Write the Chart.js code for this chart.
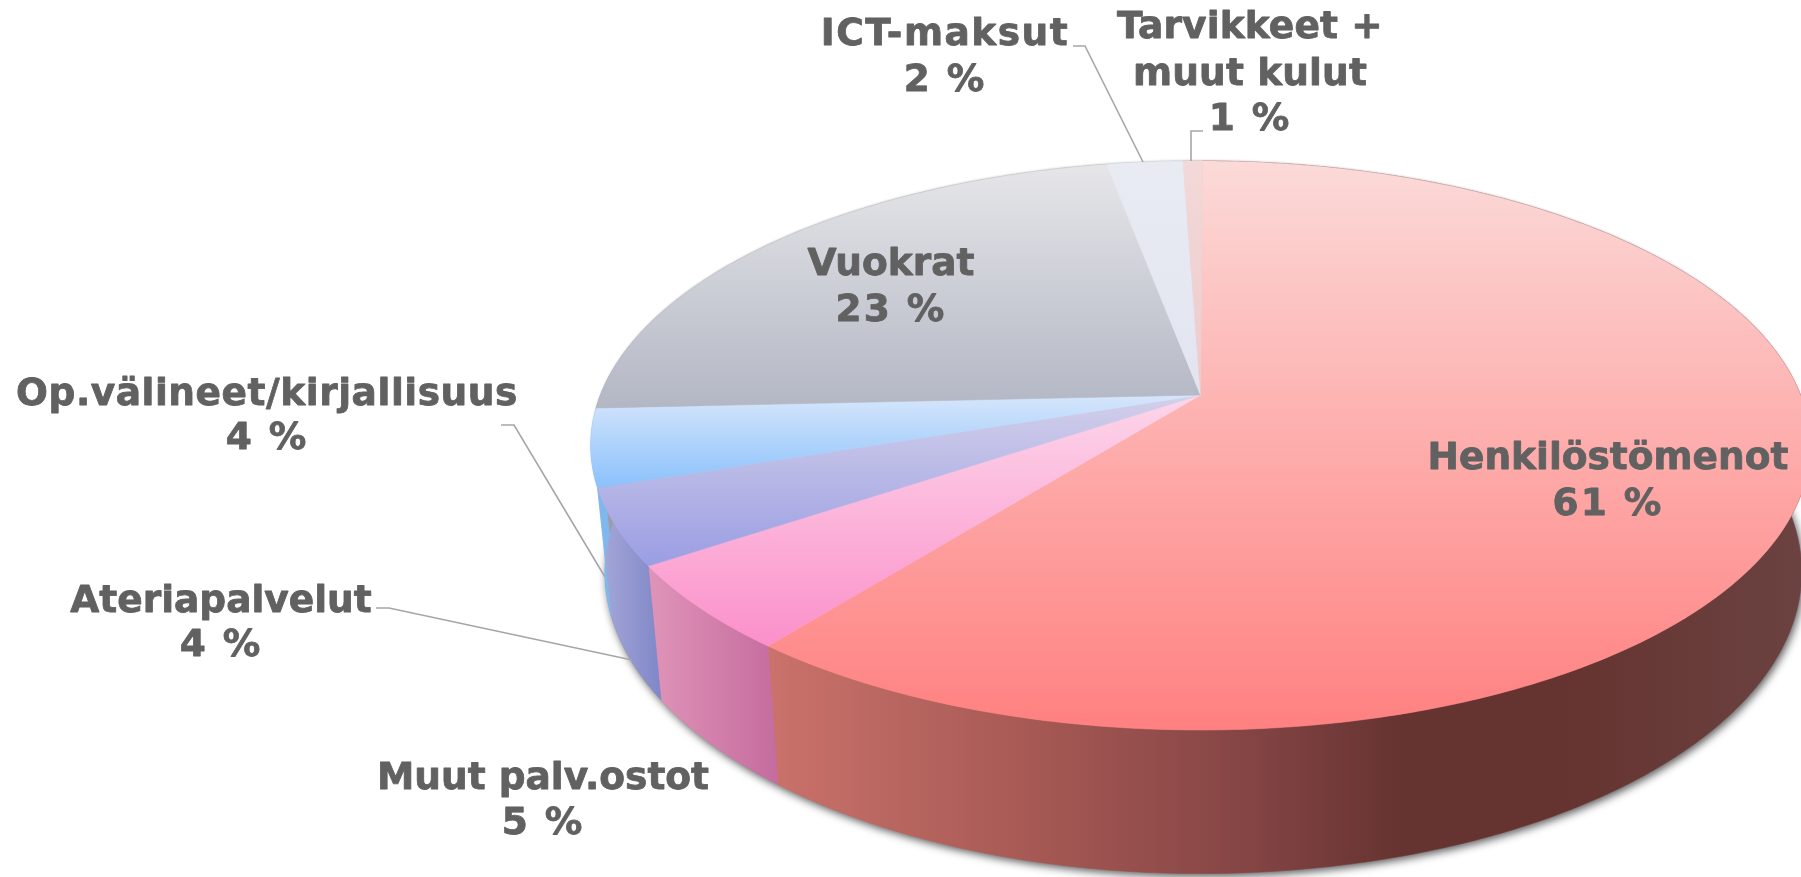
<!DOCTYPE html>
<html><head><meta charset="utf-8">
<style>html,body{margin:0;padding:0;background:#fff;overflow:hidden}canvas{display:block}</style>
<script src="https://cdn.jsdelivr.net/npm/chart.js@4"></script>
</head><body><canvas id="c" width="1801" height="877"></canvas>
<script>
const categories = ['Henkilöstömenot','Muut palv.ostot','Ateriapalvelut','Op.välineet/kirjallisuus','Vuokrat','ICT-maksut','Tarvikkeet + muut kulut'];
const shares = [60.6, 4.9, 4.3, 4.4, 22.8, 2.4, 0.6];
const percentLabels = ['61 %','5 %','4 %','4 %','23 %','2 %','1 %'];
const labelLines = [['Henkilöstömenot'],['Muut palv.ostot'],['Ateriapalvelut'],['Op.välineet/kirjallisuus'],['Vuokrat'],['ICT-maksut'],['Tarvikkeet +','muut kulut']];
const faceLight = ['#fbdad8','#fdd6ea','#d3d0ea','#d6e6fb','#e6e6e9','#e9ebf3','#f3d9d9'];
const faceDeep  = ['#ff8080','#fb90ca','#9a9de3','#8bc1fc','#b3b7c4','#e2e5f0','#eccaca'];
const wallStops = [
  [[0,'#ca726b'],[0.23,'#aa5b56'],[0.457,'#854545'],[0.61,'#653330'],[0.76,'#653330'],[1,'#6b4341']],
  [[0,'#e094b9'],[1,'#c56c9e']],
  [[0,'#a8a9d8'],[1,'#7f87c8']],
  [[0,'#7fb8ee'],[1,'#7fb8ee']],
  [[0,'#9a9da8'],[1,'#9a9da8']],
  [[0,'#c0c2cc'],[1,'#c0c2cc']],
  [[0,'#d0b0b0'],[1,'#d0b0b0']]
];
const labelAnchors = [[1608,[469,515]],[543,[789,834]],[221,[612,656]],[267,[405,449]],[891,[275,321]],[945,[45,91]],[1250,[38,85,130]]];
const labelTracking = [0,0,0,0.55,0,1.5,0.15];
const percentTracking = 2;
const leaderLines = [null,null,
  [[376,608],[389,608],[632,660]],
  [[501,425],[514,425],[605,577]],
  null,
  [[1073,46],[1085,46],[1143,162]],
  [[1203,131],[1191,131],[1191,161]]];

const view = {cx:1200.5, cy:395, r:600, k:275.5, p:0.1775, wallSL:0.977, wallSR:0.986, wallA:1.06, wallD:123.5};
function top3d(a){const x=Math.cos(a),y=Math.sin(a),w=1-view.p*y;return [view.cx+view.r*x/w, view.cy+view.k*y/w];}
function bot3d(a){const t=top3d(a),dx=t[0]-view.cx;return [view.cx+dx*(dx<0?view.wallSL:view.wallSR), view.cy+(t[1]-view.cy)*view.wallA+view.wallD];}
function bbox(pts){const xs=pts.map(p=>p[0]),ys=pts.map(p=>p[1]);return {x0:Math.min(...xs),x1:Math.max(...xs),y0:Math.min(...ys),y1:Math.max(...ys)};}
function samples(s,e,fn){const n=Math.max(4,Math.ceil((e-s)*90)),o=[];for(let i=0;i<=n;i++)o.push(fn(s+(e-s)*i/n));return o;}
function trace(ctx,pts){pts.forEach((p,i)=>i?ctx.lineTo(p[0],p[1]):ctx.moveTo(p[0],p[1]));ctx.closePath();}

const tilted = {
  id:'tilted',
  beforeDatasetsDraw(chart){
    const ctx=chart.ctx, arcs=chart.getDatasetMeta(0).data;
    ctx.save();
    // soft contact shadow of the whole solid
    ctx.shadowColor='rgba(0,0,0,0.65)';ctx.shadowBlur=9;ctx.shadowOffsetX=2;ctx.shadowOffsetY=3;ctx.fillStyle='#8a8a8a';
    ctx.beginPath();trace(ctx,samples(0,Math.PI*2,bot3d));ctx.fill();
    ctx.shadowBlur=2;ctx.shadowOffsetX=0;ctx.shadowOffsetY=-1;ctx.shadowColor='rgba(0,0,0,0.2)';ctx.fillStyle='#e8e8e8';
    ctx.beginPath();trace(ctx,samples(0,Math.PI*2,top3d));ctx.fill();
    ctx.shadowColor='transparent';ctx.shadowBlur=0;ctx.shadowOffsetX=0;ctx.shadowOffsetY=0;
    // walls
    arcs.forEach((arc,i)=>{
      const s=arc.startAngle,e=arc.endAngle;
      const tp=samples(s,e,top3d),bp=samples(s,e,bot3d),pts=tp.concat(bp.slice().reverse());
      const b=bbox(pts),g=ctx.createLinearGradient(b.x0,0,b.x1,0);
      wallStops[i].forEach(st=>g.addColorStop(st[0],st[1]));
      ctx.fillStyle=g;ctx.strokeStyle=g;ctx.lineWidth=0.6;
      ctx.beginPath();trace(ctx,pts);ctx.fill();ctx.stroke();
    });
    // top faces
    arcs.forEach((arc,i)=>{
      const c=[view.cx,view.cy],pts=[c].concat(samples(arc.startAngle,arc.endAngle,top3d));
      const b=bbox(pts),g=ctx.createLinearGradient(0,b.y0,0,b.y1);
      g.addColorStop(0,faceLight[i]);g.addColorStop(1,faceDeep[i]);
      ctx.fillStyle=g;ctx.strokeStyle=g;ctx.lineWidth=0.6;
      ctx.beginPath();trace(ctx,pts);ctx.fill();ctx.stroke();
    });
    // leaders
    ctx.strokeStyle='#a6a6a6';ctx.lineWidth=1.6;
    leaderLines.forEach(l=>{if(!l)return;ctx.beginPath();l.forEach((p,i)=>i?ctx.lineTo(p[0],p[1]):ctx.moveTo(p[0],p[1]));ctx.stroke();});
    // labels
    ctx.fillStyle='#616161';ctx.strokeStyle='#616161';ctx.lineWidth=0.8;ctx.lineJoin='round';
    ctx.font='bold 37.5px "DejaVu Sans"';ctx.textAlign='center';ctx.textBaseline='alphabetic';
    categories.forEach((_,i)=>{
      const lines=labelLines[i].concat([percentLabels[i]]),[x,ys]=labelAnchors[i];
      lines.forEach((t,j)=>{
        ctx.letterSpacing=(j<labelLines[i].length?labelTracking[i]:percentTracking)+'px';
        ctx.fillText(t,x,ys[j]);ctx.strokeText(t,x,ys[j]);
      });
    });
    ctx.restore();
    return false;
  }
};

new Chart(document.getElementById('c'),{
  type:'pie',
  data:{labels:categories,datasets:[{data:shares,backgroundColor:faceDeep,borderWidth:0}]},
  options:{responsive:false,animation:false,rotation:0.2,
    plugins:{legend:{display:false},tooltip:{enabled:false}}},
  plugins:[tilted]
});
</script></body></html>
